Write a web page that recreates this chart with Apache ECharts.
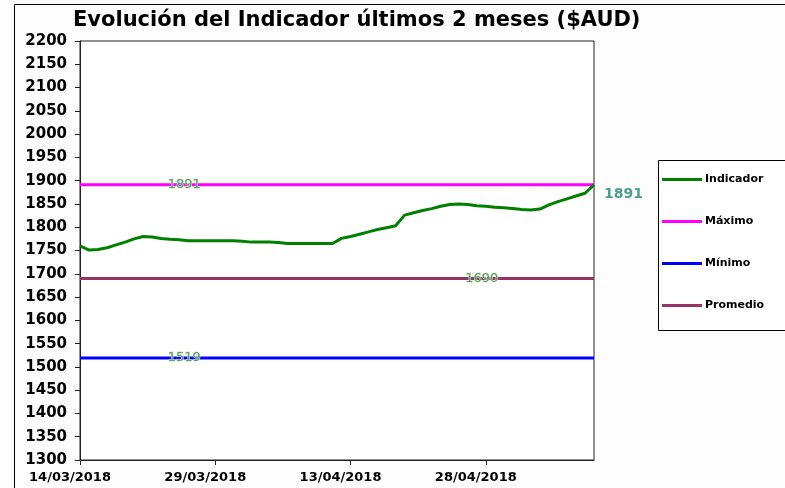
<!DOCTYPE html>
<html><head><meta charset="utf-8">
<script src="https://cdn.jsdelivr.net/npm/echarts@6/dist/echarts.min.js"></script>
<style>html,body{margin:0;padding:0;background:#fff}#c{width:785px;height:488px}</style>
</head><body><div id="c"></div>
<script>
const startDate = new Date(2018, 2, 14);
const dayCount = 58;
const indicador = [1760,1751,1752,1756,1762,1768,1775,1780,1779,1776,1774,1773,1771,1771,1771,1771,1771,1771,1770,1768,1768,1768,1767,1765,1765,1765,1765,1765,1765,1776,1780,1785,1790,1795,1799,1803,1826,1831,1836,1840,1845,1849,1850,1849,1846,1845,1843,1842,1840,1838,1837,1839,1848,1855,1861,1867,1873,1891];
const maximo = 1891;
const minimo = 1519;
const promedio = 1690;
const yTicks = {min:1300, max:2200, step:50};
const seriesNames = ['Indicador','Máximo','Mínimo','Promedio'];
const titleText = 'Evolución del Indicador últimos 2 meses ($AUD)';

function pad(n){return (n<10?'0':'')+n;}
const categories = [];
for (let i=0;i<dayCount;i++){
  const d = new Date(startDate.getFullYear(), startDate.getMonth(), startDate.getDate()+i);
  categories.push(pad(d.getDate())+'/'+pad(d.getMonth()+1)+'/'+d.getFullYear());
}
const maxArr = categories.map(()=>maximo);
const minArr = categories.map(()=>minimo);
const promArr = categories.map(()=>promedio);
const maxLabelIdx = 12, promLabelIdx = 45;

const lblStyle = {color:'#4a9f8c', fontFamily:'DejaVu Sans', fontSize:13, fontWeight:'normal', textBorderColor:'#e3e0a0', textBorderWidth:1};
function midLabel(idx, dx){
  return {show:true, position:'inside', offset:[dx,0], ...lblStyle,
    formatter:p=>p.dataIndex===idx?String(p.value):''};
}

const chart = echarts.init(document.getElementById('c'));
chart.setOption({
  backgroundColor:'#fdfdfd',
  animation:false,
  title:{text:titleText, left:68, top:5, textStyle:{fontFamily:'DejaVu Sans', fontWeight:'bold', fontSize:21, color:'#000'}},
  grid:{left:80, right:191, top:41, bottom:28, show:true, borderColor:'#222', borderWidth:1, backgroundColor:'#fff'},
  legend:{orient:'vertical', left:662, top:174, itemGap:31, padding:0,
    icon:'rect', itemWidth:40, itemHeight:3,
    textStyle:{fontFamily:'DejaVu Sans', fontWeight:'bold', fontSize:11, color:'#000', padding:[0,0,0,-2]},
    data:seriesNames},
  xAxis:{type:'category', data:categories, boundaryGap:false,
    axisLine:{lineStyle:{color:'#222', width:1}},
    axisTick:{show:true, inside:false, length:5, interval:14, lineStyle:{color:'#222'}},
    axisLabel:{interval:14, fontFamily:'DejaVu Sans', fontWeight:'bold', fontSize:13, color:'#000', margin:11, padding:[0,20,0,0],
      formatter:(v,i)=>i>=57?'':v},
    splitLine:{show:false}},
  yAxis:{type:'value', min:yTicks.min, max:yTicks.max, interval:yTicks.step,
    axisLine:{show:true, lineStyle:{color:'#222', width:1}},
    axisTick:{show:true, length:5, lineStyle:{color:'#222'}},
    axisLabel:{fontFamily:'DejaVu Sans', fontWeight:'bold', fontSize:15, color:'#000', margin:13, formatter:v=>String(v)},
    splitLine:{show:false}},
  series:[
    {name:seriesNames[0], type:'line', data:indicador, symbol:'none', lineStyle:{color:'#008000', width:3}, itemStyle:{color:'#008000'}, z:5,
      endLabel:{show:true, offset:[2,10], fontFamily:'DejaVu Sans', fontWeight:'bold', fontSize:14, color:'#4a9f8c'}},
    {name:seriesNames[1], type:'line', data:maxArr, symbol:'circle', symbolSize:0, showSymbol:true, lineStyle:{color:'#ff00ff', width:3}, itemStyle:{color:'#ff00ff'},
      label:midLabel(maxLabelIdx,-4)},
    {name:seriesNames[2], type:'line', data:minArr, symbol:'circle', symbolSize:0, showSymbol:true, lineStyle:{color:'#0000ff', width:3}, itemStyle:{color:'#0000ff'},
      label:midLabel(maxLabelIdx,-4)},
    {name:seriesNames[3], type:'line', data:promArr, symbol:'circle', symbolSize:0, showSymbol:true, lineStyle:{color:'#993366', width:3}, itemStyle:{color:'#993366'},
      label:midLabel(promLabelIdx,-4)}
  ],
  graphic:[
    {type:'rect', left:12, top:2, shape:{width:771, height:484}, style:{fill:null, stroke:'#000', lineWidth:1}, silent:true, z:-1},
    {type:'rect', left:658, top:160, shape:{width:140, height:170}, style:{fill:'#fff', stroke:'#000', lineWidth:1}, silent:true, z:-1}
  ]
});
</script></body></html>
